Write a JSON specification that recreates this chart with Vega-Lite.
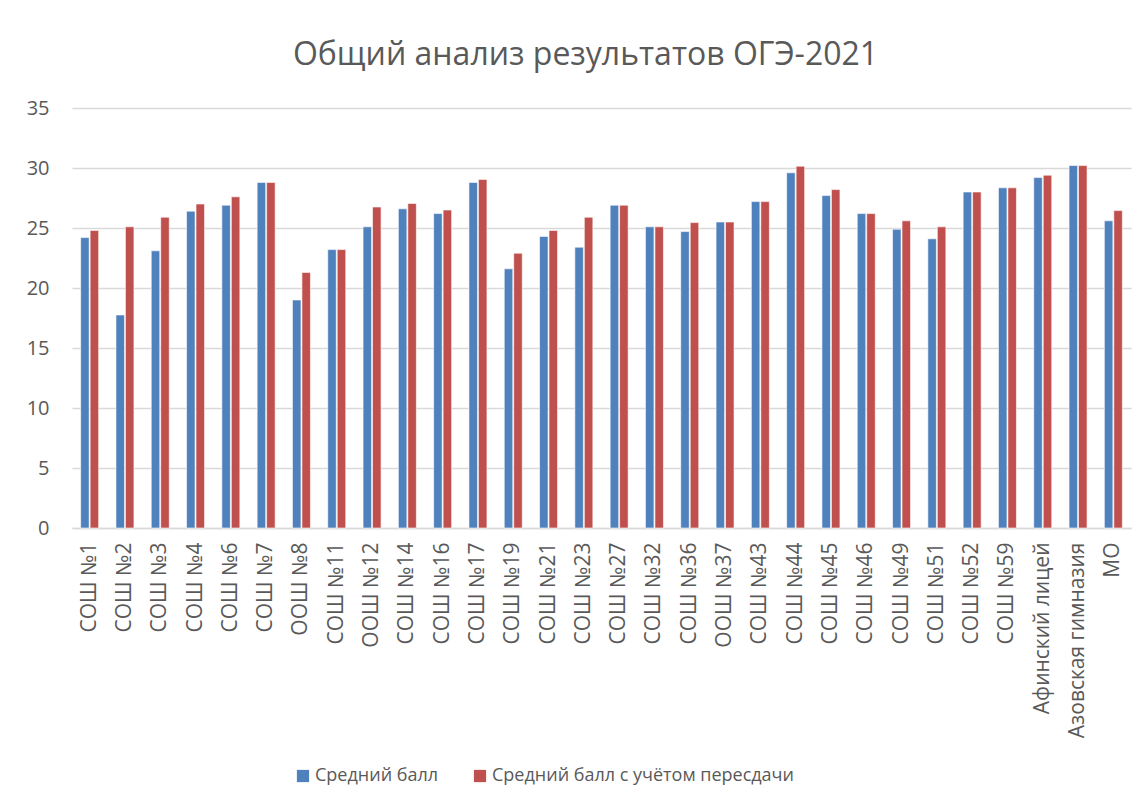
{
  "$schema": "https://vega.github.io/schema/vega-lite/v6.json",
  "width": 1059,
  "height": 420,
  "autosize": {"type": "none"},
  "padding": {"left": 72, "top": 108, "right": 16, "bottom": 281},
  "background": "white",
  "title": {
    "text": "Общий анализ результатов ОГЭ-2021",
    "font": "Open Sans",
    "fontSize": 32,
    "fontWeight": "normal",
    "color": "#595959",
    "anchor": "middle",
    "dx": -16,
    "offset": 26
  },
  "data": {
    "values": [
      {"school": "СОШ №1", "series": "Средний балл", "value": 24.2},
      {"school": "СОШ №1", "series": "Средний балл с учётом пересдачи", "value": 24.8},
      {"school": "СОШ №2", "series": "Средний балл", "value": 17.75},
      {"school": "СОШ №2", "series": "Средний балл с учётом пересдачи", "value": 25.1},
      {"school": "СОШ №3", "series": "Средний балл", "value": 23.1},
      {"school": "СОШ №3", "series": "Средний балл с учётом пересдачи", "value": 25.9},
      {"school": "СОШ №4", "series": "Средний балл", "value": 26.4},
      {"school": "СОШ №4", "series": "Средний балл с учётом пересдачи", "value": 27.0},
      {"school": "СОШ №6", "series": "Средний балл", "value": 26.9},
      {"school": "СОШ №6", "series": "Средний балл с учётом пересдачи", "value": 27.6},
      {"school": "СОШ №7", "series": "Средний балл", "value": 28.8},
      {"school": "СОШ №7", "series": "Средний балл с учётом пересдачи", "value": 28.8},
      {"school": "ООШ №8", "series": "Средний балл", "value": 19.0},
      {"school": "ООШ №8", "series": "Средний балл с учётом пересдачи", "value": 21.3},
      {"school": "СОШ №11", "series": "Средний балл", "value": 23.2},
      {"school": "СОШ №11", "series": "Средний балл с учётом пересдачи", "value": 23.2},
      {"school": "ООШ №12", "series": "Средний балл", "value": 25.1},
      {"school": "ООШ №12", "series": "Средний балл с учётом пересдачи", "value": 26.75},
      {"school": "СОШ №14", "series": "Средний балл", "value": 26.6},
      {"school": "СОШ №14", "series": "Средний балл с учётом пересдачи", "value": 27.05},
      {"school": "СОШ №16", "series": "Средний балл", "value": 26.2},
      {"school": "СОШ №16", "series": "Средний балл с учётом пересдачи", "value": 26.5},
      {"school": "СОШ №17", "series": "Средний балл", "value": 28.8},
      {"school": "СОШ №17", "series": "Средний балл с учётом пересдачи", "value": 29.05},
      {"school": "СОШ №19", "series": "Средний балл", "value": 21.6},
      {"school": "СОШ №19", "series": "Средний балл с учётом пересдачи", "value": 22.9},
      {"school": "СОШ №21", "series": "Средний балл", "value": 24.3},
      {"school": "СОШ №21", "series": "Средний балл с учётом пересдачи", "value": 24.8},
      {"school": "СОШ №23", "series": "Средний балл", "value": 23.4},
      {"school": "СОШ №23", "series": "Средний балл с учётом пересдачи", "value": 25.9},
      {"school": "СОШ №27", "series": "Средний балл", "value": 26.9},
      {"school": "СОШ №27", "series": "Средний балл с учётом пересдачи", "value": 26.9},
      {"school": "СОШ №32", "series": "Средний балл", "value": 25.1},
      {"school": "СОШ №32", "series": "Средний балл с учётом пересдачи", "value": 25.1},
      {"school": "СОШ №36", "series": "Средний балл", "value": 24.7},
      {"school": "СОШ №36", "series": "Средний балл с учётом пересдачи", "value": 25.45},
      {"school": "ООШ №37", "series": "Средний балл", "value": 25.5},
      {"school": "ООШ №37", "series": "Средний балл с учётом пересдачи", "value": 25.5},
      {"school": "СОШ №43", "series": "Средний балл", "value": 27.2},
      {"school": "СОШ №43", "series": "Средний балл с учётом пересдачи", "value": 27.2},
      {"school": "СОШ №44", "series": "Средний балл", "value": 29.6},
      {"school": "СОШ №44", "series": "Средний балл с учётом пересдачи", "value": 30.15},
      {"school": "СОШ №45", "series": "Средний балл", "value": 27.7},
      {"school": "СОШ №45", "series": "Средний балл с учётом пересдачи", "value": 28.2},
      {"school": "СОШ №46", "series": "Средний балл", "value": 26.2},
      {"school": "СОШ №46", "series": "Средний балл с учётом пересдачи", "value": 26.2},
      {"school": "СОШ №49", "series": "Средний балл", "value": 24.9},
      {"school": "СОШ №49", "series": "Средний балл с учётом пересдачи", "value": 25.6},
      {"school": "СОШ №51", "series": "Средний балл", "value": 24.1},
      {"school": "СОШ №51", "series": "Средний балл с учётом пересдачи", "value": 25.1},
      {"school": "СОШ №52", "series": "Средний балл", "value": 28.0},
      {"school": "СОШ №52", "series": "Средний балл с учётом пересдачи", "value": 28.0},
      {"school": "СОШ №59", "series": "Средний балл", "value": 28.35},
      {"school": "СОШ №59", "series": "Средний балл с учётом пересдачи", "value": 28.35},
      {"school": "Афинский лицей", "series": "Средний балл", "value": 29.2},
      {"school": "Афинский лицей", "series": "Средний балл с учётом пересдачи", "value": 29.4},
      {"school": "Азовская гимназия", "series": "Средний балл", "value": 30.2},
      {"school": "Азовская гимназия", "series": "Средний балл с учётом пересдачи", "value": 30.2},
      {"school": "МО", "series": "Средний балл", "value": 25.6},
      {"school": "МО", "series": "Средний балл с учётом пересдачи", "value": 26.45}
    ]
  },
  "mark": {"type": "bar", "stroke": "white", "strokeWidth": 0.6},
  "encoding": {
    "x": {
      "field": "school",
      "type": "nominal",
      "sort": null,
      "scale": {"paddingInner": 0.49, "paddingOuter": 0.245},
      "axis": {
        "title": null,
        "labelAngle": -90,
        "labelFont": "Open Sans",
        "labelFontSize": 21,
        "labelColor": "#595959",
        "labelPadding": 14,
        "labelLimit": 400,
        "domainColor": "#d9d9d9",
        "domainWidth": 1.5,
        "ticks": false,
        "grid": false
      }
    },
    "xOffset": {
      "field": "series",
      "type": "nominal",
      "sort": ["Средний балл", "Средний балл с учётом пересдачи"],
      "scale": {"paddingInner": 0.1}
    },
    "y": {
      "field": "value",
      "type": "quantitative",
      "scale": {"domain": [0, 35], "nice": false},
      "axis": {
        "title": null,
        "values": [0, 5, 10, 15, 20, 25, 30, 35],
        "labelFont": "Open Sans",
        "labelFontSize": 20,
        "labelColor": "#595959",
        "labelPadding": 23,
        "domain": false,
        "ticks": false,
        "gridColor": "#d9d9d9",
        "gridWidth": 1.5
      }
    },
    "color": {
      "field": "series",
      "type": "nominal",
      "sort": ["Средний балл", "Средний балл с учётом пересдачи"],
      "scale": {"range": ["#4F81BD", "#C0504D"]},
      "legend": {
        "title": null,
        "orient": "none",
        "legendX": 222,
        "legendY": 659,
        "direction": "horizontal",
        "symbolType": "square",
        "symbolSize": 150,
        "symbolStrokeWidth": 0,
        "labelFont": "Open Sans",
        "labelFontSize": 18,
        "labelColor": "#595959",
        "labelLimit": 500,
        "columnPadding": 32,
        "labelOffset": 3
      }
    }
  },
  "config": {"view": {"stroke": null}}
}
